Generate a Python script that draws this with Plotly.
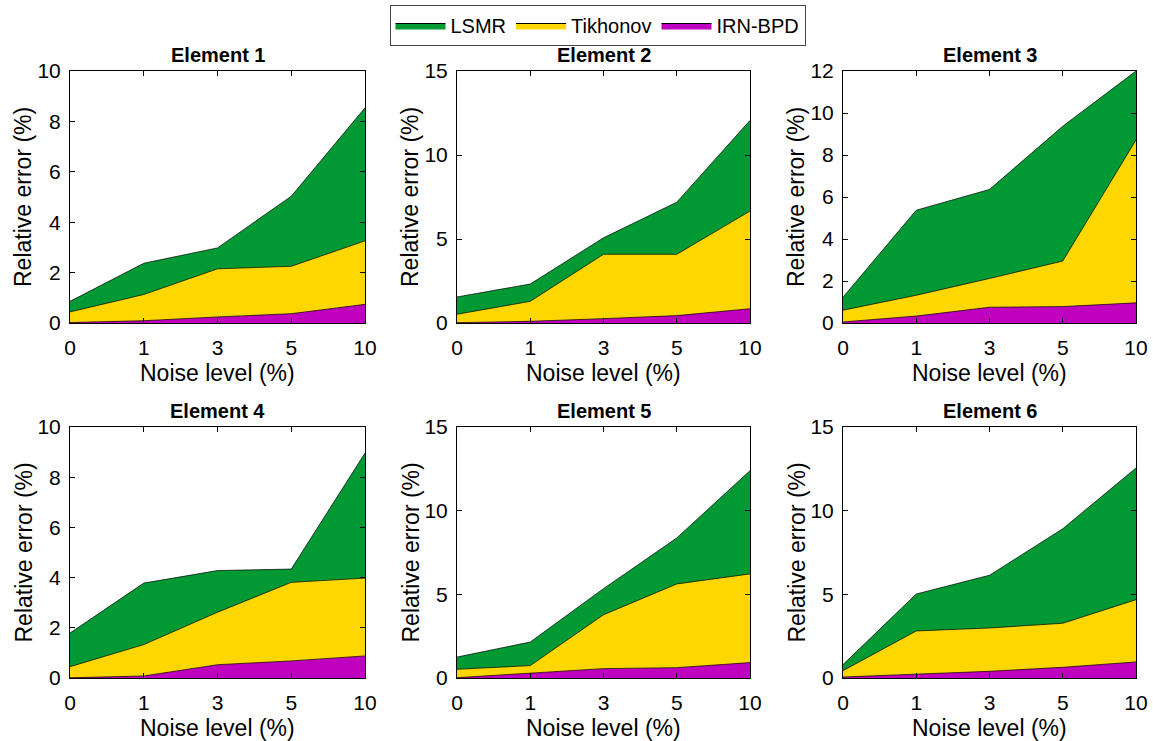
import plotly.graph_objects as go

noise_levels = ['0', '1', '3', '5', '10']
series_names = ['LSMR', 'Tikhonov', 'IRN-BPD']
element_titles = ['Element 1', 'Element 2', 'Element 3', 'Element 4', 'Element 5', 'Element 6']

lsmr_e1 = [0.86, 2.37, 2.98, 5.03, 8.54]
tikh_e1 = [0.44, 1.13, 2.15, 2.25, 3.26]
irn_e1 = [0.02, 0.09, 0.24, 0.37, 0.74]

lsmr_e2 = [1.55, 2.32, 5.07, 7.19, 12.06]
tikh_e2 = [0.52, 1.29, 4.09, 4.09, 6.66]
irn_e2 = [0.02, 0.10, 0.26, 0.44, 0.85]

lsmr_e3 = [1.23, 5.37, 6.36, 9.37, 12.0]
tikh_e3 = [0.61, 1.32, 2.12, 2.95, 8.72]
irn_e3 = [0.05, 0.33, 0.75, 0.78, 0.96]

lsmr_e4 = [1.79, 3.78, 4.28, 4.34, 8.96]
tikh_e4 = [0.45, 1.33, 2.62, 3.81, 3.98]
irn_e4 = [0.01, 0.08, 0.53, 0.68, 0.88]

lsmr_e5 = [1.25, 2.15, 5.34, 8.37, 12.39]
tikh_e5 = [0.52, 0.74, 3.78, 5.62, 6.22]
irn_e5 = [0.02, 0.30, 0.56, 0.62, 0.92]

lsmr_e6 = [0.80, 5.02, 6.14, 8.92, 12.55]
tikh_e6 = [0.44, 2.81, 2.99, 3.27, 4.68]
irn_e6 = [0.06, 0.24, 0.40, 0.64, 0.96]

y_max = [10, 15, 12, 10, 15, 15]
y_dtick = [2, 5, 2, 2, 5, 5]

data = [
    (lsmr_e1, tikh_e1, irn_e1),
    (lsmr_e2, tikh_e2, irn_e2),
    (lsmr_e3, tikh_e3, irn_e3),
    (lsmr_e4, tikh_e4, irn_e4),
    (lsmr_e5, tikh_e5, irn_e5),
    (lsmr_e6, tikh_e6, irn_e6),
]

colors = ['#009933', '#FFD700', '#BF00BF']

W, H = 1153, 741
x_px = [(70, 365), (457, 750), (843, 1136)]
y_px = [(71, 323), (427, 678)]

FONT = 'Liberation Sans, Arial, sans-serif'

fig = go.Figure()
layout = dict(
    template='none',
    width=W, height=H,
    margin=dict(l=0, r=0, t=0, b=0, autoexpand=False),
    paper_bgcolor='white', plot_bgcolor='white',
    font=dict(family=FONT, color='black'),
    showlegend=True,
    legend=dict(
        orientation='h', x=597.5 / W, xanchor='center', y=1 - 5 / H, yanchor='top',
        bordercolor='#444444', borderwidth=1, bgcolor='white',
        font=dict(size=20, family=FONT), itemwidth=50, traceorder='normal',
        tracegroupgap=0,
    ),
    annotations=[],
)

# legend-only swatches (filled boxes)
for name, col in zip(series_names, colors):
    fig.add_trace(go.Scatter(
        x=[None], y=[None], name=name, mode='lines', fill='toself',
        fillcolor=col, line=dict(color='black', width=1),
        showlegend=True, legendgroup=name,
    ))

for i in range(6):
    r, c = divmod(i, 3)
    ax = '' if i == 0 else str(i + 1)
    x0, x1 = x_px[c]
    yt, yb = y_px[r]
    for k, (vals, name, col) in enumerate(zip(data[i], series_names, colors)):
        fig.add_trace(go.Scatter(
            x=noise_levels, y=vals, name=name, mode='lines',
            fill='tozeroy', fillcolor=col,
            line=dict(color='black', width=0.7),
            xaxis='x' + ax, yaxis='y' + ax,
            showlegend=False, legendgroup=name,
        ))
    layout['xaxis' + ax] = dict(
        domain=[x0 / W, x1 / W], anchor='y' + ax, automargin=False,
        type='category', range=[0, 4],
        showline=True, linecolor='black', linewidth=1, mirror='allticks',
        ticks='inside', ticklen=5, tickcolor='black',
        showgrid=False, zeroline=False,
        tickfont=dict(size=21, family=FONT), ticklabelstandoff=6,
    )
    layout['yaxis' + ax] = dict(
        domain=[1 - yb / H, 1 - yt / H], anchor='x' + ax, automargin=False,
        range=[0, y_max[i]], dtick=y_dtick[i],
        showline=True, linecolor='black', linewidth=1, mirror='allticks',
        ticks='inside', ticklen=5, tickcolor='black',
        showgrid=False, zeroline=False,
        tickfont=dict(size=21, family=FONT), ticklabelstandoff=4,
    )
    cx = (x0 + x1) / 2 / W
    layout['annotations'].append(dict(
        text='<b>' + element_titles[i] + '</b>', x=cx, y=1 - (yt - 16) / H,
        xref='paper', yref='paper', xanchor='center', yanchor='middle',
        showarrow=False, font=dict(size=20, family=FONT)))
    layout['annotations'].append(dict(
        text='Noise level (%)', x=cx, y=1 - (yb + 50) / H,
        xref='paper', yref='paper', xanchor='center', yanchor='middle',
        showarrow=False, font=dict(size=23, family=FONT)))
    layout['annotations'].append(dict(
        text='Relative error (%)', x=(x0 - 47) / W, y=1 - (yt + yb) / 2 / H,
        xref='paper', yref='paper', xanchor='center', yanchor='middle',
        textangle=-90, showarrow=False, font=dict(size=23, family=FONT)))

fig.update_layout(**layout)
fig.write_html('out.html')
